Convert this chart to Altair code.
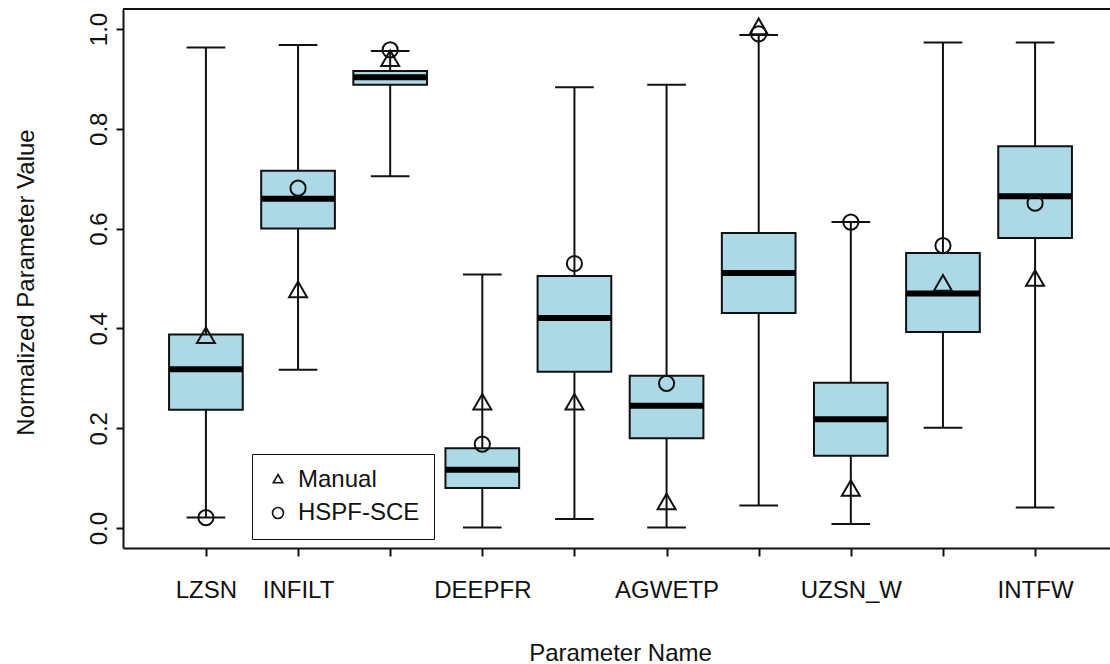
import altair as alt
import pandas as pd

# Parameter names along the x axis (blank where the label is not printed)
params = ["LZSN", "INFILT", "", "DEEPFR", "", "AGWETP", "", "UZSN_W", "", "INTFW"]
positions = [1, 2, 3, 4, 5, 6, 7, 8, 9, 10]

# Box-plot statistics of the normalized parameter values
whisker_low = [0.021, 0.317, 0.705, 0.001, 0.018, 0.001, 0.045, 0.008, 0.201, 0.041]
q1 = [0.237, 0.600, 0.888, 0.080, 0.313, 0.180, 0.431, 0.145, 0.393, 0.581]
median = [0.318, 0.660, 0.903, 0.117, 0.421, 0.245, 0.511, 0.218, 0.470, 0.665]
q3 = [0.388, 0.716, 0.916, 0.160, 0.505, 0.305, 0.591, 0.291, 0.551, 0.765]
whisker_high = [0.963, 0.968, 0.956, 0.508, 0.883, 0.888, 0.988, 0.613, 0.973, 0.973]

# Calibrated parameter sets
series_names = ["Manual", "HSPF-SCE"]
manual = [0.381, 0.473, 0.936, 0.248, 0.248, 0.048, 1.000, 0.075, 0.486, 0.496]
hspf_sce = [0.021, 0.681, 0.958, 0.168, 0.530, 0.290, 0.990, 0.613, 0.566, 0.651]

boxes = pd.DataFrame({
    "pos": positions,
    "lo": whisker_low,
    "q1": q1,
    "med": median,
    "q3": q3,
    "hi": whisker_high,
})
points = pd.DataFrame({
    "pos": positions * 2,
    "value": manual + hspf_sce,
    "series": [series_names[0]] * len(manual) + [series_names[1]] * len(hspf_sce),
})

FONT = "Liberation Sans"
INK = "#111111"
TRIANGLE = "M0,-1L0.866,0.5L-0.866,0.5Z"

x_scale = alt.Scale(domain=[0.1, 10.9], range=[0, 995], nice=False, zero=False)
y_scale = alt.Scale(domain=[-0.04, 1.04], nice=False, zero=False)

label_expr = "[" + ",".join("'%s'" % p for p in params) + "][datum.value - 1]"

x_axis = alt.Axis(
    values=positions, labelExpr=label_expr, labelOverlap=False,
    tickSize=8, tickWidth=2, tickColor=INK, domainWidth=2, domainColor=INK,
    labelFont=FONT, labelFontSize=24, labelColor=INK, labelPadding=22,
    labelBaseline="top", labelAlign="center",
    title="Parameter Name", titleFont=FONT, titleFontSize=24,
    titleFontWeight="normal", titleColor=INK, titleX=497, titleY=112,
    titleAlign="center", titleBaseline="alphabetic", grid=False,
)
y_axis = alt.Axis(
    values=[0.0, 0.2, 0.4, 0.6, 0.8, 1.0], format=".1f",
    tickSize=7, tickWidth=2, tickColor=INK, domainWidth=2, domainColor=INK,
    labelFont=FONT, labelFontSize=24, labelColor=INK, labelAngle=270,
    labelAlign="center", labelBaseline="alphabetic", labelPadding=10,
    title="Normalized Parameter Value", titleFont=FONT, titleFontSize=24,
    titleFontWeight="normal", titleColor=INK, titleAngle=270,
    titleX=-90, titleY=273, titleAlign="center", titleBaseline="alphabetic",
    grid=False,
)

base = alt.Chart(boxes)

whiskers = base.mark_rule(color=INK, strokeWidth=2).encode(
    x=alt.X("pos:Q", scale=x_scale, axis=x_axis),
    y=alt.Y("lo:Q", scale=y_scale, axis=y_axis),
    y2="hi:Q",
)

caps_hi = base.transform_calculate(
    cl="datum.pos - 0.21", cr="datum.pos + 0.21"
).mark_rule(color=INK, strokeWidth=2).encode(
    x=alt.X("cl:Q", scale=x_scale, axis=x_axis),
    x2="cr:Q",
    y=alt.Y("hi:Q", scale=y_scale, axis=y_axis),
)
caps_lo = base.transform_calculate(
    cl="datum.pos - 0.21", cr="datum.pos + 0.21"
).mark_rule(color=INK, strokeWidth=2).encode(
    x=alt.X("cl:Q", scale=x_scale, axis=x_axis),
    x2="cr:Q",
    y=alt.Y("lo:Q", scale=y_scale, axis=y_axis),
)

box_rects = base.transform_calculate(
    bl="datum.pos - 0.4", br="datum.pos + 0.4"
).mark_rect(fill="#ADD8E6", stroke=INK, strokeWidth=2).encode(
    x=alt.X("bl:Q", scale=x_scale, axis=x_axis),
    x2="br:Q",
    y=alt.Y("q1:Q", scale=y_scale, axis=y_axis),
    y2="q3:Q",
)

medians = base.transform_calculate(
    bl="datum.pos - 0.4", br="datum.pos + 0.4"
).mark_rule(color="#000000", strokeWidth=6, strokeCap="butt").encode(
    x=alt.X("bl:Q", scale=x_scale, axis=x_axis),
    x2="br:Q",
    y=alt.Y("med:Q", scale=y_scale, axis=y_axis),
)

shape_enc = alt.Shape(
    "series:N",
    scale=alt.Scale(domain=series_names, range=[TRIANGLE, "circle"]),
    legend=alt.Legend(
        title=None, orient="none", legendX=129, legendY=445,
        strokeColor=INK, padding=14, fillColor="white",
        labelFont=FONT, labelFontSize=24, labelColor=INK,
        labelOffset=8, rowPadding=9, labelLimit=400,
        symbolSize=120, symbolStrokeWidth=1.6,
        symbolStrokeColor=INK, symbolFillColor="transparent",
    ),
)


def point_layer(name, size):
    return alt.Chart(points).transform_filter(
        alt.datum.series == name
    ).mark_point(
        filled=False, color=INK, strokeWidth=2, opacity=1, size=size
    ).encode(
        x=alt.X("pos:Q", scale=x_scale, axis=x_axis),
        y=alt.Y("value:Q", scale=y_scale, axis=y_axis),
        shape=shape_enc,
    )


manual_pts = point_layer(series_names[0], 430)
sce_pts = point_layer(series_names[1], 230)

top_frame = alt.Chart(boxes).mark_rule(color=INK, strokeWidth=2).encode(
    x=alt.value(0), x2=alt.value(987), y=alt.value(0)
)

chart = alt.layer(
    top_frame, whiskers, caps_hi, caps_lo, box_rects, medians, manual_pts, sce_pts
).properties(
    width=987,
    height=539,
    padding={"left": 123, "top": 9, "right": 0, "bottom": 116},
    autosize=alt.AutoSizeParams(type="none"),
    background="white",
).configure_view(stroke=None)

chart.save("out.html", embed_options={"renderer": "svg", "actions": False})
